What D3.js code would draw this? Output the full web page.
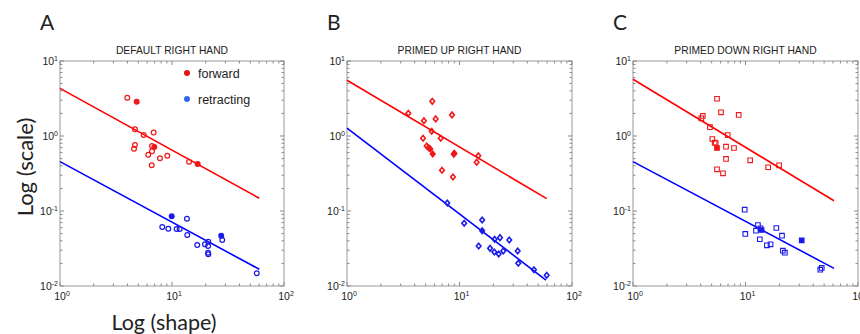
<!DOCTYPE html>
<html lang="en">
<head>
    <meta charset="UTF-8">
    <title>shape vs scale</title>
    <script src="https://d3js.org/d3.v7.min.js" charset="utf-8"></script>
    <style>
        body{margin:0;background:#fff;}
        svg{display:block;}
    </style>
</head>
<body>
    <svg></svg>
    <script>
        // [shape, scale, filled]
        var aForward = [[3.99,3.24,0],[4.84,2.87,1],[4.67,1.23,0],[5.59,1.03,0],[6.86,1.11,0],[4.67,0.759,0],
            [4.58,0.677,0],[6.63,0.736,0],[6.95,0.714,1],[6.63,0.625,0],[6.14,0.563,0],[7.81,0.504,0],
            [9.08,0.546,0],[6.59,0.407,0],[14.2,0.454,0],[16.96,0.423,1]];
        var aRetract = [[9.94,0.085,1],[13.6,0.0789,0],[8.19,0.0612,0],[9.27,0.0581,0],[11.0,0.0575,0],[11.7,0.0575,0],
            [13.7,0.0479,0],[16.8,0.0352,0],[19.7,0.036,0],[21.1,0.039,0],[20.98,0.0341,0],[21.0,0.0278,0],
            [21.1,0.0265,0],[27.5,0.0469,1],[28.1,0.041,0],[57.1,0.0148,0]];
        var bForward = [[5.73,2.90,0],[3.51,2.01,0],[4.83,1.60,0],[6.14,1.69,0],[8.58,1.91,0],[5.66,1.155,0],
            [6.81,0.932,0],[4.74,0.932,0],[5.11,0.736,0],[5.32,0.698,0],[5.50,0.671,1],[5.78,0.575,1],
            [8.99,0.588,1],[8.90,0.570,0],[14.7,0.546,0],[14.2,0.446,0],[6.99,0.349,0],[8.75,0.284,0]];
        var bRetract = [[7.79,0.128,0],[11.0,0.0686,0],[15.9,0.0759,0],[15.9,0.0546,1],[14.8,0.0341,0],[20.5,0.042,0],
            [22.9,0.0441,0],[27.7,0.041,0],[18.7,0.0318,0],[20.4,0.0284,0],[22.3,0.0267,0],[24.5,0.0293,0],
            [32.9,0.0293,0],[33.3,0.0201,0],[45.9,0.0165,0],[59.6,0.0139,0]];
        var cForward = [[5.58,3.14,0],[6.06,2.07,0],[8.70,1.91,0],[4.17,1.85,0],[4.05,1.72,0],[4.83,1.31,0],
            [6.95,1.03,0],[5.07,0.912,0],[5.32,0.814,0],[5.43,0.807,0],[5.58,0.692,1],[6.71,0.720,0],
            [7.90,0.692,0],[6.71,0.494,0],[11.0,0.474,0],[15.9,0.383,0],[19.9,0.407,0],[5.58,0.360,0],[6.31,0.318,0]];
        var cRetract = [[9.84,0.104,0],[12.9,0.0651,0],[13.6,0.0588,0],[13.9,0.0558,1],[12.4,0.0546,0],[18.8,0.0593,0],
            [9.96,0.0494,0],[21.1,0.0469,0],[13.4,0.042,0],[31.6,0.0407,1],[15.5,0.0349,0],[16.7,0.036,0],
            [21.5,0.0296,0],[22.4,0.0278,0],[46.2,0.0165,0],[47.6,0.0174,0]];
        // fitted lines: [shape1, scale1, shape2, scale2]
        var aFit = {forward:[1,4.32,60.2,0.148], retract:[1,0.455,60.2,0.0167]};
        var bFit = {forward:[1,5.53,59.6,0.146], retract:[1,1.27,58.7,0.012]};
        var cFit = {forward:[1,5.70,61.2,0.137], retract:[1,0.455,61.2,0.0172]};
        var panelLetters = ["A","B","C"];
        var panelTitles = ["DEFAULT RIGHT HAND","PRIMED UP RIGHT HAND","PRIMED DOWN RIGHT HAND"];
        var xTicks = [1,10,100];
        var yTicks = [0.01,0.1,1,10];
        var legendLabels = ["forward","retracting"];

        var W = 860, H = 334;
        var svg = d3.select("svg").attr("width",W).attr("height",H);
        var font = "'Liberation Sans', Arial, sans-serif";
        var RED = "#ff0000", BLUE = "#0000ff";

        var panels = [
            {left:60, width:224, fwd:aForward, ret:aRetract, fit:aFit, marker:"circle"},
            {left:347, width:225, fwd:bForward, ret:bRetract, fit:bFit, marker:"diamond"},
            {left:633, width:225, fwd:cForward, ret:cRetract, fit:cFit, marker:"square"}
        ];
        var plotTop = 61, plotBottom = 286;

        function pow10(g, v, x, y, anchor){
            var e = Math.round(Math.log10(v));
            var t = g.append("text").attr("x",x).attr("y",y).attr("text-anchor",anchor)
                .attr("font-family",font).attr("font-size",10.5).attr("fill","#222");
            t.append("tspan").text("10");
            t.append("tspan").attr("dy",-4.5).attr("font-size",7).text(e);
            return t;
        }

        panels.forEach(function(p,i){
            var g = svg.append("g");
            var x = d3.scaleLog().domain([1,100]).range([p.left, p.left+p.width]);
            var y = d3.scaleLog().domain([0.01,10]).range([plotBottom, plotTop]);

            // panel letter and title
            g.append("text").attr("x",p.left-20).attr("y",30)
                .attr("font-family","Lato, 'Open Sans', sans-serif").attr("font-size",21).attr("fill","#222")
                .text(panelLetters[i]);
            g.append("text").attr("x",p.left+p.width/2).attr("y",54).attr("text-anchor","middle")
                .attr("font-family",font).attr("font-size",10.3).attr("fill","#222")
                .text(panelTitles[i]);

            // frame
            g.append("rect").attr("x",p.left).attr("y",plotTop).attr("width",p.width).attr("height",plotBottom-plotTop)
                .attr("fill","none").attr("stroke","#9a9a9a").attr("stroke-width",1);

            // minor + major ticks inside
            var xt = [];
            [1,10].forEach(function(d){ for(var k=1;k<=9;k++) xt.push(d*k); });
            xt.push(100);
            xt.forEach(function(v){
                var major = xTicks.indexOf(v) >= 0;
                var len = major ? 4 : 2.5;
                var px = x(v);
                g.append("line").attr("x1",px).attr("x2",px).attr("y1",plotBottom).attr("y2",plotBottom-len).attr("stroke","#8a8a8a");
                g.append("line").attr("x1",px).attr("x2",px).attr("y1",plotTop).attr("y2",plotTop+len).attr("stroke","#8a8a8a");
            });
            var yt = [];
            [0.01,0.1,1].forEach(function(d){ for(var k=1;k<=9;k++) yt.push(+(d*k).toPrecision(3)); });
            yt.push(10);
            yt.forEach(function(v){
                var major = yTicks.indexOf(v) >= 0;
                var len = major ? 4 : 2.5;
                var py = y(v);
                g.append("line").attr("y1",py).attr("y2",py).attr("x1",p.left).attr("x2",p.left+len).attr("stroke","#8a8a8a");
                g.append("line").attr("y1",py).attr("y2",py).attr("x1",p.left+p.width).attr("x2",p.left+p.width-len).attr("stroke","#8a8a8a");
            });

            // tick labels
            xTicks.forEach(function(v){ pow10(g, v, x(v)+2, plotBottom+14, "middle"); });
            yTicks.forEach(function(v){ pow10(g, v, p.left-2, y(v)+4, "end"); });

            // fit lines
            var line = d3.line().x(function(d){return x(d[0]);}).y(function(d){return y(d[1]);});
            [[p.fit.forward,RED],[p.fit.retract,BLUE]].forEach(function(f){
                g.append("path").attr("d",line([[f[0][0],f[0][1]],[f[0][2],f[0][3]]]))
                    .attr("fill","none").attr("stroke",f[1]).attr("stroke-width",1.6);
            });

            // markers
            [[p.fwd,"#f01818"],[p.ret,"#1a1ae8"]].forEach(function(s){
                var col = s[1];
                var sel = g.append("g").selectAll("path").data(s[0]).enter().append("path")
                    .attr("transform",function(d){return "translate("+x(d[0])+","+y(d[1])+")";})
                    .attr("fill",function(d){return d[2] ? col : "none";})
                    .attr("stroke",col);
                if(p.marker === "circle"){
                    sel.attr("d",d3.symbol().type(d3.symbolCircle).size(18)).attr("stroke-width",1.2);
                } else if(p.marker === "diamond"){
                    sel.attr("d","M0,-2.8L2.3,0L0,2.8L-2.3,0Z").attr("stroke-width",1.6);
                } else {
                    sel.attr("d","M-2.3,-2.3H2.3V2.3H-2.3Z").attr("stroke-width",1.1);
                }
            });

            // legend in panel A
            if(i === 0){
                var lg = g.append("g");
                [["#ee1111",73],["#3366f0",99]].forEach(function(l,k){
                    lg.append("circle").attr("cx",187).attr("cy",l[1]).attr("r",3).attr("fill",l[0]);
                    lg.append("text").attr("x",198).attr("y",l[1]+4.5)
                        .attr("font-family",font).attr("font-size",12.5).attr("fill","#222")
                        .text(legendLabels[k]);
                });
            }
        });

        // axis titles
        svg.append("text").attr("transform","translate(33,167) rotate(-90)").attr("text-anchor","middle")
            .attr("font-family","Lato, 'Open Sans', sans-serif").attr("font-size",22).attr("fill","#222")
            .text("Log (scale)");
        svg.append("text").attr("x",164).attr("y",330).attr("text-anchor","middle")
            .attr("font-family","Lato, 'Open Sans', sans-serif").attr("font-size",21.5).attr("fill","#222")
            .text("Log (shape)");
    </script>
</body>
</html>
